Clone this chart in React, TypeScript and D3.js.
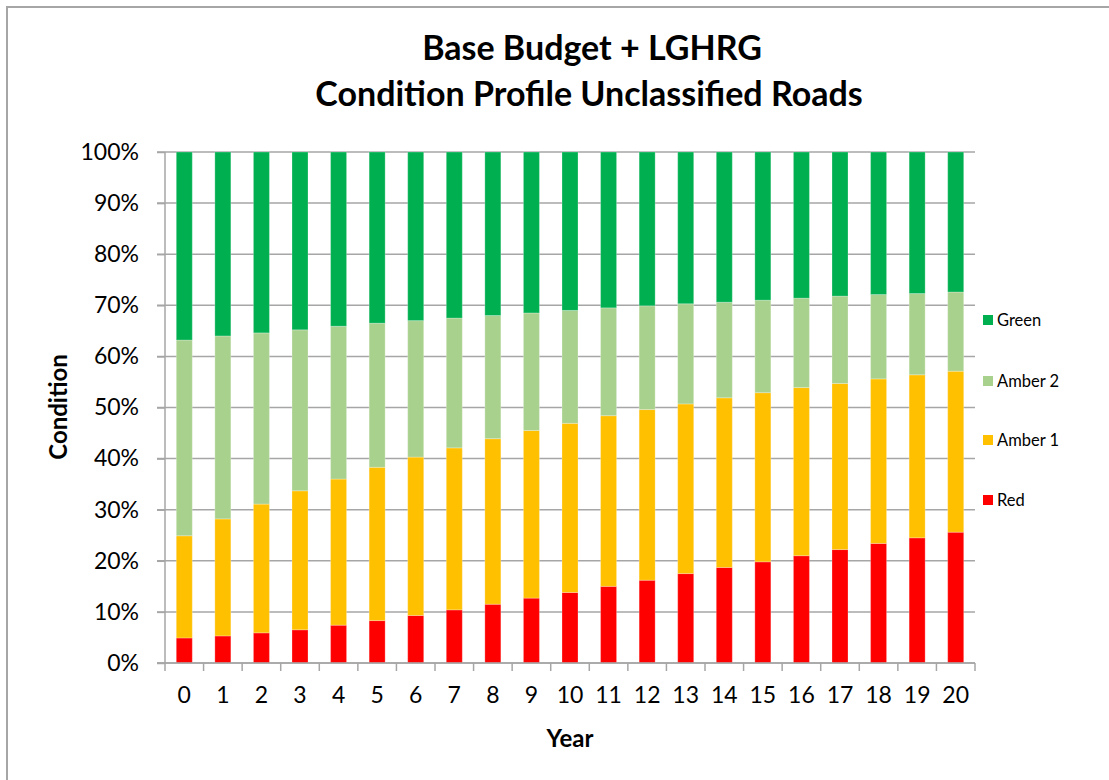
import React, { useEffect, useRef } from "react";
import * as d3 from "d3";

const years = ["0", "1", "2", "3", "4", "5", "6", "7", "8", "9", "10", "11", "12", "13", "14", "15", "16", "17", "18", "19", "20"];
const red = [4.9, 5.3, 5.9, 6.5, 7.4, 8.3, 9.3, 10.4, 11.5, 12.7, 13.8, 15.0, 16.2, 17.5, 18.7, 19.8, 21.0, 22.2, 23.4, 24.5, 25.6];
const amber1 = [20.0, 22.9, 25.2, 27.2, 28.6, 30.0, 31.0, 31.7, 32.4, 32.8, 33.1, 33.4, 33.4, 33.2, 33.2, 33.1, 32.9, 32.5, 32.2, 31.9, 31.5];
const amber2 = [38.3, 35.8, 33.5, 31.5, 29.9, 28.2, 26.7, 25.4, 24.1, 23.0, 22.1, 21.1, 20.3, 19.6, 18.7, 18.1, 17.5, 17.1, 16.5, 15.9, 15.5];
const green = [36.8, 36.0, 35.4, 34.8, 34.1, 33.5, 33.0, 32.5, 32.0, 31.5, 31.0, 30.5, 30.1, 29.7, 29.4, 29.0, 28.6, 28.2, 27.9, 27.7, 27.4];
const seriesNames = ["Red", "Amber 1", "Amber 2", "Green"];
const seriesColors = ["#ff0000", "#ffc000", "#a9d18e", "#00b050"];
const yTicks = [0, 10, 20, 30, 40, 50, 60, 70, 80, 90, 100];

export default function App() {
  const containerRef = useRef(null);
  useEffect(() => {
    drawChart();
  }, []);

  function drawChart() {
    const width = 1109;
    const height = 780;
    const left = 165,
      right = 975,
      top = 152,
      bottom = 663;
    const font = "Lato, 'Open Sans', sans-serif";

    const root = d3.select(containerRef.current);
    root.selectAll("*").remove();

    const svg = root
      .append("svg")
      .attr("width", width)
      .attr("height", height)
      .style("position", "absolute")
      .style("left", 0)
      .style("top", 0)
      .style("background", "#fff");

    // chart border (runs off right/bottom edge)
    svg
      .append("rect")
      .attr("x", 7)
      .attr("y", 7)
      .attr("width", width + 20)
      .attr("height", height + 20)
      .attr("fill", "#fff")
      .attr("stroke", "#a6a6a6")
      .attr("stroke-width", 2);

    const x = d3.scaleBand().domain(years).range([left, right]).paddingInner(0.585).paddingOuter(0.2925);
    const y = d3.scaleLinear().domain([0, 100]).range([bottom, top]);

    // gridlines
    svg
      .append("g")
      .selectAll("line")
      .data(yTicks)
      .join("line")
      .attr("x1", left - 8)
      .attr("x2", right)
      .attr("y1", (d) => y(d))
      .attr("y2", (d) => y(d))
      .attr("stroke", "#a6a6a6")
      .attr("stroke-width", 1.5);

    // stacked bars
    const rows = years.map((yr, i) => ({
      year: yr,
      Red: red[i],
      "Amber 1": amber1[i],
      "Amber 2": amber2[i],
      Green: green[i],
    }));
    const stacked = d3.stack().keys(seriesNames)(rows);

    svg
      .append("g")
      .selectAll("g")
      .data(stacked)
      .join("g")
      .attr("fill", (d, i) => seriesColors[i])
      .selectAll("rect")
      .data((d) => d)
      .join("rect")
      .attr("x", (d) => x(d.data.year))
      .attr("width", x.bandwidth())
      .attr("y", (d) => y(d[1]))
      .attr("height", (d) => y(d[0]) - y(d[1]))
      .attr("stroke", "#ffffff")
      .attr("stroke-opacity", 0.25)
      .attr("stroke-width", 1);

    // y axis
    const yAxis = svg
      .append("g")
      .attr("transform", `translate(${left},0)`)
      .call(
        d3
          .axisLeft(y)
          .tickValues(yTicks)
          .tickSize(8)
          .tickPadding(18)
          .tickFormat((d) => `${d}%`)
      );
    yAxis.select(".domain").attr("stroke", "#a6a6a6").attr("stroke-width", 1.5).attr("d", `M0,${bottom}V${top}`);
    yAxis.selectAll(".tick line").attr("stroke", "#a6a6a6").attr("stroke-width", 1.5);
    yAxis
      .selectAll(".tick text")
      .attr("font-family", font)
      .attr("font-size", 23)
      .attr("fill", "#000");

    // x axis
    const xAxis = svg
      .append("g")
      .attr("transform", `translate(0,${bottom})`)
      .call(d3.axisBottom(x).tickSize(0).tickPadding(24));
    xAxis.select(".domain").attr("stroke", "#a6a6a6").attr("stroke-width", 1.5).attr("d", `M${left - 8},0H${right}`);
    xAxis
      .selectAll(".tick text")
      .attr("font-family", font)
      .attr("font-size", 23)
      .attr("fill", "#000");
    // category boundary ticks
    xAxis
      .append("g")
      .selectAll("line")
      .data(years.concat(["end"]))
      .join("line")
      .attr("x1", (d, i) => left + i * x.step())
      .attr("x2", (d, i) => left + i * x.step())
      .attr("y1", 0)
      .attr("y2", 8)
      .attr("stroke", "#a6a6a6")
      .attr("stroke-width", 1.5);

    // titles
    const title = svg
      .append("text")
      .attr("text-anchor", "middle")
      .attr("font-family", font)
      .attr("font-weight", "bold")
      .attr("font-size", 34)
      .attr("fill", "#000");
    title.append("tspan").attr("x", 592).attr("y", 60).text("Base Budget + LGHRG");
    title.append("tspan").attr("x", 589).attr("y", 106).text("Condition Profile Unclassified Roads");

    svg
      .append("text")
      .attr("x", 570)
      .attr("y", 747)
      .attr("text-anchor", "middle")
      .attr("font-family", font)
      .attr("font-weight", "bold")
      .attr("font-size", 24)
      .text("Year");

    svg
      .append("text")
      .attr("transform", "translate(67,407) rotate(-90)")
      .attr("text-anchor", "middle")
      .attr("font-family", font)
      .attr("font-weight", "bold")
      .attr("font-size", 24)
      .text("Condition");

    // legend (top to bottom: Green, Amber 2, Amber 1, Red)
    const legendY = [320, 381, 440, 500];
    const legend = svg
      .append("g")
      .selectAll("g")
      .data(seriesNames.slice().reverse())
      .join("g")
      .attr("transform", (d, i) => `translate(983,${legendY[i]})`);
    legend
      .append("rect")
      .attr("x", 0)
      .attr("y", -5)
      .attr("width", 10)
      .attr("height", 10)
      .attr("fill", (d) => seriesColors[seriesNames.indexOf(d)]);
    legend
      .append("text")
      .attr("x", 14)
      .attr("y", 5.5)
      .attr("font-family", font)
      .attr("font-size", 16.5)
      .text((d) => d);
  }

  return (
    <div>
      <div ref={containerRef}></div>
    </div>
  );
}
